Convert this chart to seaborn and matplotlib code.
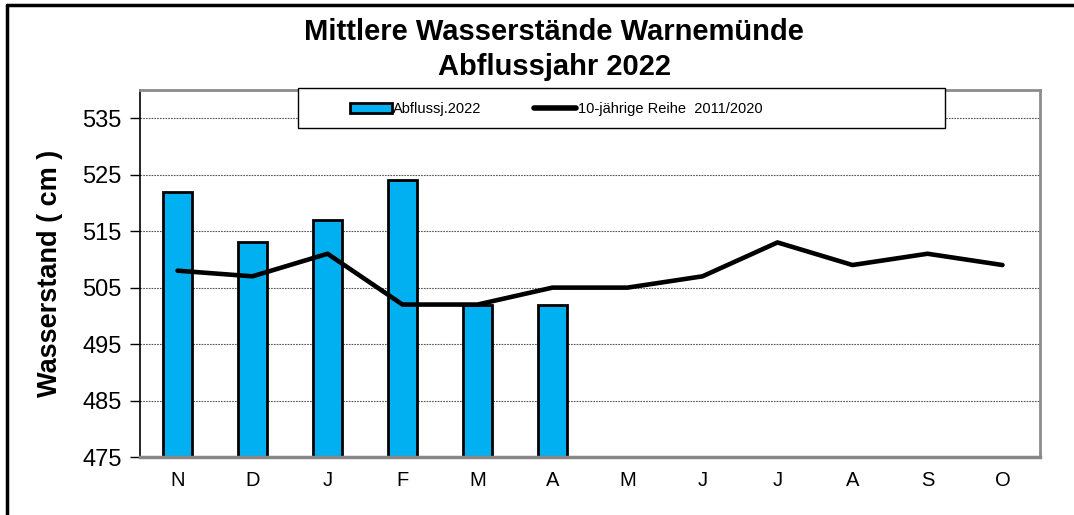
import matplotlib
matplotlib.use("Agg")
import matplotlib.pyplot as plt
import matplotlib.lines as mlines
import matplotlib.patches as mpatches
import seaborn as sns
import numpy as np
import pandas as pd

months = ["Nov", "Dez", "Jan", "Feb", "Mär", "Apr", "Mai", "Jun", "Jul", "Aug", "Sep", "Okt"]
tick_labels = ["N", "D", "J", "F", "M", "A", "M", "J", "J", "A", "S", "O"]
bar_values = [522, 513, 517, 524, 502, 502, np.nan, np.nan, np.nan, np.nan, np.nan, np.nan]
line_values = [508, 507, 511, 502, 502, 505, 505, 507, 513, 509, 511, 509]
yticks = [475, 485, 495, 505, 515, 525, 535]

title = "Mittlere Wasserstände Warnemünde\nAbflussjahr 2022"
ylabel = "Wasserstand ( cm )"
bar_label = "Abflussj.2022"
line_label = "10-jährige Reihe  2011/2020"

sns.set_theme(style="white")
plt.rcParams["font.family"] = ["Liberation Sans", "DejaVu Sans"]
plt.rcParams["text.color"] = "black"
plt.rcParams["axes.labelcolor"] = "black"
plt.rcParams["xtick.color"] = "black"
plt.rcParams["ytick.color"] = "black"

df_bar = pd.DataFrame({"month": months, "value": bar_values})
df_line = pd.DataFrame({"pos": np.arange(len(months)), "value": line_values})

fig = plt.figure(figsize=(10.74, 5.15), dpi=100)
ax = fig.add_axes([140 / 1074, 1 - 457 / 515, 900 / 1074, 367 / 515])

bar_color = "#00B0F0"
sns.barplot(data=df_bar, x="month", y="value", order=months, color=bar_color,
            width=0.39, edgecolor="black", linewidth=2, saturation=1, ax=ax)
sns.lineplot(data=df_line, x="pos", y="value", color="black", linewidth=3.3, ax=ax,
             zorder=5)

ax.set_ylim(475, 540)
ax.set_xlim(-0.5, len(months) - 0.5)
ax.set_yticks(yticks)
ax.set_yticklabels([str(v) for v in yticks], fontsize=17)
ax.set_xticks(np.arange(len(months)))
ax.set_xticklabels(tick_labels, fontsize=14.5)
ax.tick_params(axis="y", direction="out", length=7, width=1, color="black", pad=6, left=True)
ax.tick_params(axis="x", length=0, pad=10)
ax.set_xlabel("")
ax.set_ylabel(ylabel, fontsize=19.5, fontweight="bold", labelpad=14)

ax.yaxis.grid(True, linestyle=(0, (1.5, 1)), color="#555555", linewidth=0.8)
ax.xaxis.grid(False)
ax.set_axisbelow(True)

ax.spines["left"].set_color("black")
ax.spines["left"].set_linewidth(1.2)
ax.spines["bottom"].set_color("#888888")
ax.spines["bottom"].set_linewidth(2.5)
ax.spines["top"].set_color("#8c8c8c")
ax.spines["top"].set_linewidth(2)
ax.spines["right"].set_color("#8c8c8c")
ax.spines["right"].set_linewidth(2)

fig.suptitle(title, fontsize=21, fontweight="bold", x=554 / 1074, y=1 - 18 / 515,
             va="top", linespacing=1.3)

# legend box (frame drawn separately to match the wide Excel-style box)
fig.add_artist(mpatches.Rectangle((298 / 1074, 1 - 128 / 515), 647 / 1074, 40 / 515,
                                  transform=fig.transFigure, facecolor="white",
                                  edgecolor="black", linewidth=1.0, zorder=9))
h_bar = mpatches.Patch(facecolor=bar_color, edgecolor="black", linewidth=2, label=bar_label)
h_line = mlines.Line2D([], [], color="black", linewidth=4, label=line_label)
leg = fig.legend(handles=[h_bar, h_line], loc="center",
                 bbox_to_anchor=(556 / 1074, 1 - 109 / 515),
                 ncol=2, fontsize=10.5, frameon=False, handlelength=2.9, handleheight=0.65,
                 handletextpad=0.1, columnspacing=3.6, borderpad=0.3)
leg.set_zorder(10)

# Outer frame lines (left and top)
fig.add_artist(mlines.Line2D([7 / 1074, 7 / 1074], [0, 1 - 5 / 515], color="black",
                             linewidth=2.5, transform=fig.transFigure))
fig.add_artist(mlines.Line2D([7 / 1074, 1], [1 - 5 / 515, 1 - 5 / 515], color="black",
                             linewidth=2.5, transform=fig.transFigure))

fig.savefig("out.png", dpi=100)
